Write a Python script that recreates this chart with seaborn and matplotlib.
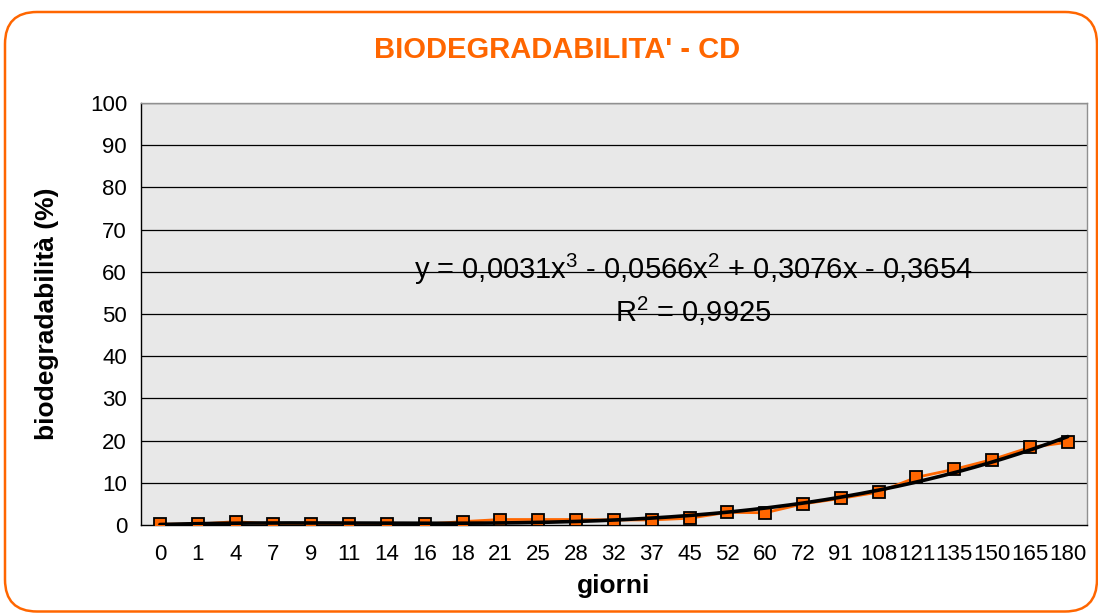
import numpy as np
import pandas as pd
import matplotlib
matplotlib.use("Agg")
import matplotlib.pyplot as plt
from matplotlib.patches import FancyBboxPatch
import seaborn as sns

giorni = ["0", "1", "4", "7", "9", "11", "14", "16", "18", "21", "25", "28", "32",
          "37", "45", "52", "60", "72", "91", "108", "121", "135", "150", "165", "180"]
biodeg = [0.2, 0.2, 0.8, 0.2, 0.2, 0.2, 0.2, 0.2, 0.8, 1.3, 1.3, 1.3, 1.2,
          1.2, 1.6, 3.0, 2.9, 5.0, 6.3, 7.8, 11.3, 13.2, 15.5, 18.4, 19.6]
y_ticks = [0, 10, 20, 30, 40, 50, 60, 70, 80, 90, 100]
title = "BIODEGRADABILITA' - CD"
eq_text = "y = 0,0031x$^3$ - 0,0566x$^2$ + 0,3076x - 0,3654"
r2_text = "R$^2$ = 0,9925"

sns.set_style("white")
plt.rcParams['font.family'] = ['Liberation Sans', 'DejaVu Sans']
plt.rcParams['mathtext.fontset'] = 'custom'
plt.rcParams['mathtext.rm'] = 'Liberation Sans'
plt.rcParams['text.color'] = 'black'
plt.rcParams['axes.labelcolor'] = 'black'
plt.rcParams['xtick.color'] = 'black'
plt.rcParams['ytick.color'] = 'black'

ORANGE = "#FF6600"

fig = plt.figure(figsize=(10.98, 6.13), dpi=100)
fig.patch.set_facecolor("white")

# rounded outer border (pixel coordinates)
border = FancyBboxPatch((5, 1.5), 1092, 599.5,
                        boxstyle="round,pad=0,rounding_size=32",
                        transform=None, facecolor="none",
                        edgecolor=ORANGE, linewidth=1.8, clip_on=False)
fig.patches.append(border)

ax = fig.add_axes([141 / 1098, 1 - 525 / 613, (1086.7 - 141) / 1098, (525 - 103) / 613])
ax.set_facecolor("#e8e8e8")

df = pd.DataFrame({"pos": np.arange(len(giorni)), "val": biodeg})

# polynomial trendline (Excel style, x = 1..n)
xi = np.arange(1, len(giorni) + 1)
coef = np.polyfit(xi, biodeg, 3)
xf = np.linspace(1, len(giorni), 300)
tf = pd.DataFrame({"pos": xf - 1, "val": np.polyval(coef, xf)})

sns.lineplot(data=df, x="pos", y="val", ax=ax, color=ORANGE, linewidth=2,
             marker="s", markersize=8, markerfacecolor=ORANGE,
             markeredgecolor="black", markeredgewidth=1.3, zorder=3)
sns.lineplot(data=tf, x="pos", y="val", ax=ax, color="black", linewidth=2.6, zorder=4)

ax.set_xlim(-0.5, len(giorni) - 0.5)
ax.set_ylim(0, 100)
ax.set_yticks(y_ticks)
ax.set_yticklabels([str(t) for t in y_ticks], fontsize=16)
ax.set_xticks(np.arange(len(giorni)))
ax.set_xticklabels(giorni, fontsize=16)
ax.set_xticks(np.arange(len(giorni) + 1) - 0.5, minor=True)
ax.tick_params(axis="x", which="major", length=0, pad=14, labelcolor="black")
ax.tick_params(axis="x", which="minor", length=6, width=1, color="black", direction="out")
ax.tick_params(axis="y", which="major", length=6, width=1, color="black", direction="out",
               pad=4, labelcolor="black")

ax.grid(False)
for t in y_ticks[1:]:
    ax.axhline(t, color="black", linewidth=0.9, zorder=1)

for s in ["top", "right"]:
    ax.spines[s].set_color("#909090")
    ax.spines[s].set_linewidth(1)
for s in ["left", "bottom"]:
    ax.spines[s].set_color("black")
    ax.spines[s].set_linewidth(1)

ax.set_xlabel("giorni", fontsize=19, fontweight="bold", labelpad=6, color="black")
ax.set_ylabel("biodegradabilità (%)", fontsize=19, fontweight="bold", labelpad=22, color="black")

ax.text(14.1, 60.5, eq_text, fontsize=21, ha="center", va="center", zorder=5, color="black")
ax.text(14.1, 50.5, r2_text, fontsize=21, ha="center", va="center", zorder=5, color="black")

fig.text(557 / 1098, 1 - 50 / 613, title, fontsize=21, fontweight="bold",
         color=ORANGE, ha="center", va="center")

fig.savefig("out.png", dpi=100, facecolor="white")
